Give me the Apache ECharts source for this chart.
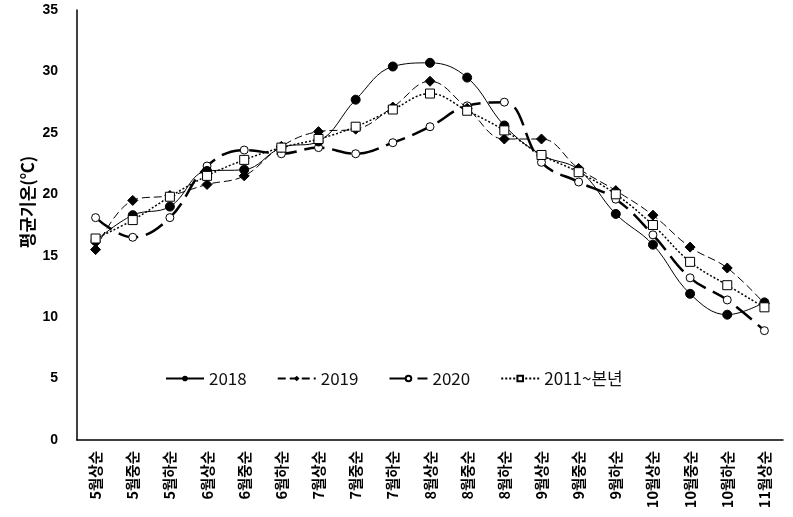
<!DOCTYPE html>
<html><head><meta charset="utf-8">
<script src="https://cdn.jsdelivr.net/npm/echarts@6/dist/echarts.min.js"></script>
<style>html,body{margin:0;padding:0;background:#fff}#c{width:793px;height:517px}</style>
</head><body><div id="c"></div>
<script>
var categories = ['5월상순','5월중순','5월하순','6월상순','6월중순','6월하순','7월상순','7월중순','7월하순','8월상순','8월중순','8월하순','9월상순','9월중순','9월하순','10월상순','10월중순','10월하순','11월상순'];
var s2018 = [16.2,18.3,19.0,21.9,22.0,23.8,24.3,27.7,30.4,30.7,29.5,25.6,23.2,22.0,18.4,15.9,11.9,10.2,11.2];
var s2019 = [15.5,19.5,19.9,20.8,21.5,23.9,25.1,25.3,27.1,29.2,27.0,24.5,24.5,22.1,20.3,18.3,15.7,14.0,11.1];
var s2020 = [18.1,16.5,18.1,22.3,23.6,23.3,23.8,23.3,24.2,25.5,27.2,27.5,22.6,21.0,19.6,16.7,13.2,11.4,8.9];
var sAvg = [16.4,17.9,19.8,21.5,22.8,23.8,24.5,25.5,26.9,28.2,26.8,25.2,23.2,21.8,20.0,17.5,14.5,12.6,10.8];
var yTicks = {min:0, max:35, interval:5};
var yTitle = '평균기온(℃)';

var chart = echarts.init(document.getElementById('c'), null, {renderer:'canvas'});
var korFont = '"Noto Sans CJK KR", "Noto Sans", sans-serif';
var numFont = '"Liberation Sans", Arial, sans-serif';
chart.setOption({
  animation:false,
  backgroundColor:'#fff',
  grid:{left:77, right:10, top:10, bottom:77, containLabel:false},
  graphic:[{
    type:'text', x:28, y:202, rotation:Math.PI/2,
    style:{text:yTitle, fontFamily:korFont, fontWeight:'bold', fontSize:17, fill:'#000', align:'center', verticalAlign:'middle'}
  }],
  legend:{
    top:365, left:160, itemGap:30, itemWidth:38, itemHeight:7,
    textStyle:{fontFamily:korFont, fontSize:17, color:'#111'},
    data:['2018','2019','2020','2011~본년']
  },
  xAxis:{
    type:'category', data:categories, boundaryGap:true,
    axisLine:{lineStyle:{color:'#000', width:1.5}},
    axisTick:{show:false},
    axisLabel:{rotate:90, interval:0, fontFamily:korFont, fontWeight:'bold', fontSize:14.5, color:'#000', margin:11}
  },
  yAxis:{
    type:'value', min:yTicks.min, max:yTicks.max, interval:yTicks.interval,
    splitLine:{show:false},
    axisLine:{show:true, lineStyle:{color:'#000', width:1.5}},
    axisTick:{show:false},
    axisLabel:{fontFamily:numFont, fontWeight:'bold', fontSize:14, color:'#000', margin:19}
  },
  series:[
    {name:'2018', type:'line', data:s2018, smooth:0.4, symbol:'circle', symbolSize:9,
     itemStyle:{color:'#000', borderColor:'#000'}, lineStyle:{color:'#000', width:1, type:'solid'}, z:4},
    {name:'2019', type:'line', data:s2019, smooth:0.4, symbol:'diamond', symbolSize:10,
     itemStyle:{color:'#000', borderColor:'#000'}, lineStyle:{color:'#000', width:1, type:[8,4]}, z:3},
    {name:'2020', type:'line', data:s2020, smooth:0.4, symbol:'circle', symbolSize:8,
     itemStyle:{color:'#fff', borderColor:'#000', borderWidth:1}, lineStyle:{color:'#000', width:2.5, type:[20,8]}, z:2},
    {name:'2011~본년', type:'line', data:sAvg, smooth:0.4, symbol:'rect', symbolSize:9,
     itemStyle:{color:'#fff', borderColor:'#000', borderWidth:1}, lineStyle:{color:'#000', width:1.5, type:[2,2]}, z:5}
  ]
});
</script></body></html>
